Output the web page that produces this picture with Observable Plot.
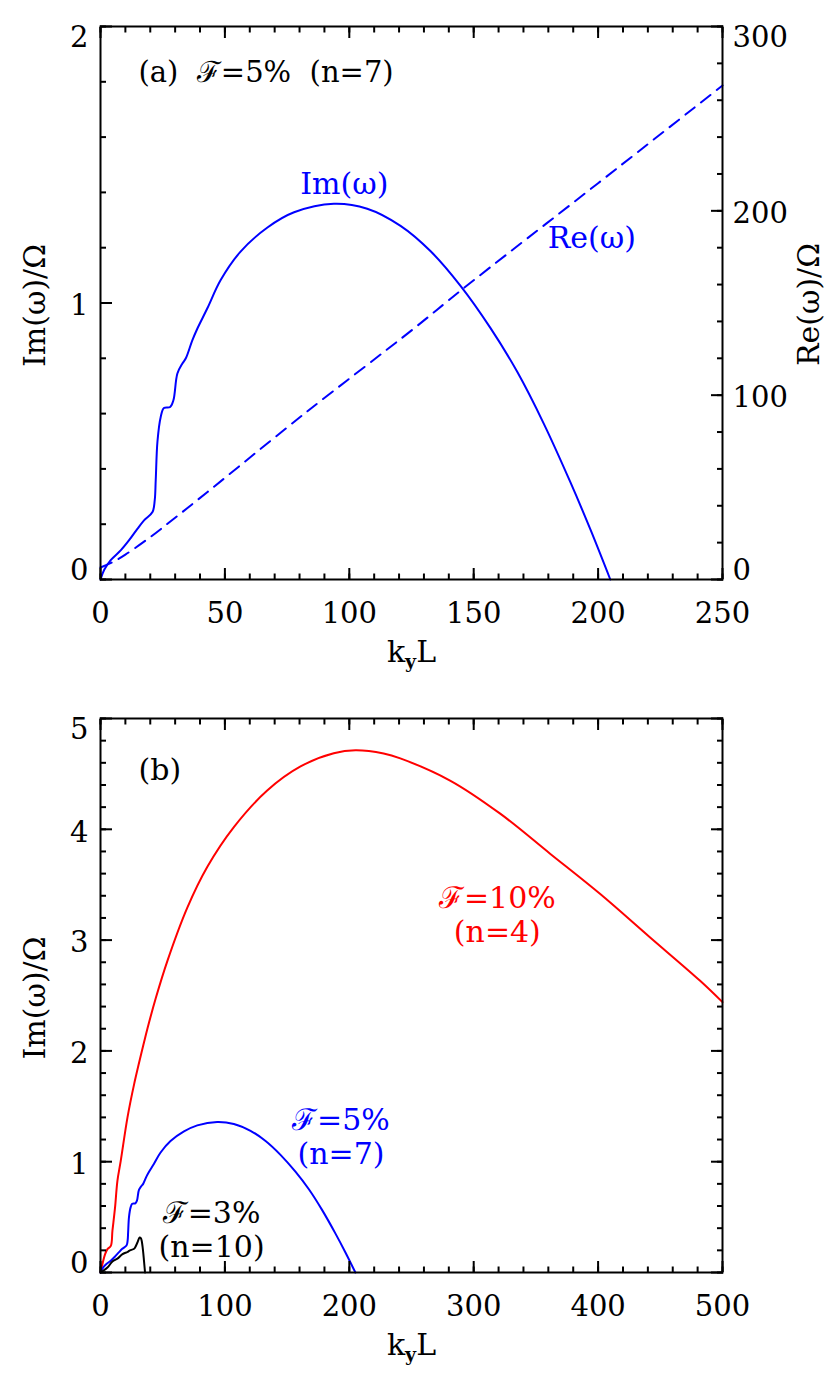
<!DOCTYPE html>
<html>
<head>
<meta charset="utf-8">
<script src="https://cdn.jsdelivr.net/npm/d3@7"></script>
<script src="https://cdn.jsdelivr.net/npm/@observablehq/plot@0.6"></script>
<style>
html, body { margin: 0; padding: 0; background: #fff; }
#chart svg { display: block; }
</style>
</head>
<body>
<div id="chart"></div>
<script>
// ---------- data ----------
// F = 5% (n=7): growth rate Im(omega)/Omega vs k_y L
const kF5  = [0, 1.5, 4.1, 8.2, 11.5, 14.9, 17.5, 20.9, 21.8, 22.2, 22.9, 24.2, 25.5, 28, 29.3, 30.9, 32.9, 34.3, 36.9, 38.9, 42.9, 48.3, 56.3, 67.1, 77.8, 93.8, 107.2, 120.6, 132.7, 144.7, 156.7, 167.5, 178.2, 188.9, 196.9, 204.9];
const imF5 = [0, 0.035, 0.07, 0.106, 0.142, 0.184, 0.214, 0.244, 0.287, 0.36, 0.5, 0.588, 0.62, 0.624, 0.648, 0.745, 0.781, 0.8, 0.865, 0.907, 0.98, 1.083, 1.186, 1.273, 1.328, 1.359, 1.341, 1.279, 1.187, 1.062, 0.91, 0.751, 0.563, 0.351, 0.181, 0];
// F = 5%: real frequency Re(omega)/Omega
const kRe  = [0, 5, 10, 20, 30, 43, 82, 126, 145, 200, 250];
const reF5 = [6.5, 9.5, 13.5, 23, 33.5, 47.5, 90, 136.2, 157, 215, 268];
// F = 10% (n=4)
const kF10  = [0, 3.7, 5.6, 8.3, 9.6, 11.7, 13.6, 16.3, 21.7, 27, 35, 37.7, 44.4, 53.8, 69.8, 85.9, 107.2, 134, 160.8, 187.5, 205, 227.6, 241, 281, 321.3, 361.4, 401.5, 441.6, 481.8, 500];
const imF10 = [0, 0.166, 0.211, 0.24, 0.377, 0.587, 0.828, 1.009, 1.4, 1.698, 2.078, 2.2, 2.475, 2.813, 3.293, 3.662, 4.02, 4.35, 4.567, 4.686, 4.713, 4.684, 4.64, 4.44, 4.141, 3.78, 3.418, 3.026, 2.635, 2.44];
// F = 3% (n=10)
const kF3  = [0, 5.6, 9.6, 13.6, 17.7, 21.7, 23, 27, 27.8, 29.7, 31.5, 32.4, 33.1, 34.2, 35, 35.8];
const imF3 = [0, 0.045, 0.1, 0.125, 0.166, 0.185, 0.196, 0.215, 0.226, 0.271, 0.316, 0.31, 0.286, 0.196, 0.1, 0];

// tick values
const xMajorA = [0, 50, 100, 150, 200, 250];
const xMinorA = d3.range(0, 251, 10);
const yMajorA = [0, 1, 2];
const yMinorA = d3.range(0, 2.001, 0.2);
const reMajor = [0, 100, 200, 300];
const reMinor = d3.range(0, 301, 20);
const xMajorB = [0, 100, 200, 300, 400, 500];
const xMinorB = d3.range(0, 501, 20);
const yMajorB = [0, 1, 2, 3, 4, 5];
const yMinorB = d3.range(0, 5.001, 0.2);

// annotations (data coordinates)
const annA = [{k: 98, v: 1.43, t: "Im(\u03C9)"}];
const annRe = [{k: 197.5, v: 185, t: "Re(\u03C9)"}];
const annB = [
  {k: 319, v: 3.236, t: "\u2131=10%\n(n=4)", c: "#ff0000"},
  {k: 193.3, v: 1.229, t: "\u2131=5%\n(n=7)", c: "#0000ff"},
  {k: 89.3, v: 0.395, t: "\u2131=3%\n(n=10)", c: "#000000"}
];

const RE_PER_IM = 150; // right axis 0..300 spans the same height as left axis 0..2
const FONT = "DejaVu Serif";
const BLUE = "#0000ff", RED = "#ff0000";
const TICK_FS = 29, TEXT_FS = 30;

function rows(ks, vs) { return ks.map((k, i) => ({k, v: vs[i]})); }

function tickMarks(axisFn, anchor, values, len) {
  const key = "inset" + anchor[0].toUpperCase() + anchor.slice(1);
  return axisFn(values, {anchor, tickSize: len, [key]: len, fill: "none", stroke: "black", strokeWidth: 2, label: null});
}
function yLabels(anchor, values, fmt) {
  const lo = d3.min(values), hi = d3.max(values);
  return values.map(v => Plot.axisY([v], {
    anchor, tickSize: 0, tickPadding: anchor === "left" ? 12 : 10,
    dy: v === hi ? 11.5 : v === lo ? -8.5 : 3,
    tickFormat: fmt, fontSize: TICK_FS, label: null, fill: "black"
  }));
}
function xLabels(values) {
  return Plot.axisX(values, {anchor: "bottom", tickSize: 0, tickPadding: 23, fontSize: TICK_FS, label: null, fill: "black", tickFormat: d => String(d)});
}
function axisTitles(leftTitle) {
  return [
    Plot.text([leftTitle], {text: d => d, frameAnchor: "left", rotate: -90, dx: -65, dy: 2.5, fontSize: TEXT_FS, textAnchor: "middle", lineAnchor: "middle"}),
    Plot.text(["k_yL"], {text: d => d, frameAnchor: "bottom", dy: 73, fontSize: TEXT_FS, textAnchor: "middle", lineAnchor: "middle"})
  ];
}

const plotA = Plot.plot({
  width: 830, height: 690,
  marginLeft: 100, marginRight: 108, marginTop: 26, marginBottom: 111,
  x: {domain: [0, 250]},
  y: {domain: [0, 2]},
  style: {fontFamily: FONT, fontSize: "29px", color: "black", background: "white", overflow: "visible"},
  marks: [
    Plot.line(rows(kRe, reF5), {x: "k", y: d => d.v / RE_PER_IM, stroke: BLUE, strokeWidth: 2, strokeDasharray: "12,8", curve: "catmull-rom"}),
    Plot.line(rows(kF5, imF5), {x: "k", y: "v", stroke: BLUE, strokeWidth: 2, curve: "catmull-rom"}),
    Plot.frame({stroke: "black", strokeWidth: 2}),
    tickMarks(Plot.axisX, "bottom", xMinorA, 5.5),
    tickMarks(Plot.axisX, "bottom", xMajorA, 11),
    tickMarks(Plot.axisX, "top", xMinorA, 5.5),
    tickMarks(Plot.axisX, "top", xMajorA, 11),
    tickMarks(Plot.axisY, "left", yMinorA, 6),
    tickMarks(Plot.axisY, "left", yMajorA, 12),
    tickMarks(Plot.axisY, "right", reMinor.map(v => v / RE_PER_IM), 6),
    tickMarks(Plot.axisY, "right", reMajor.map(v => v / RE_PER_IM), 12),
    xLabels(xMajorA),
    yLabels("left", yMajorA, d => String(d)),
    yLabels("right", reMajor.map(v => v / RE_PER_IM), d => String(Math.round(d * RE_PER_IM))),
    axisTitles("Im(\u03C9)/\u03A9"),
    Plot.text(["Re(\u03C9)/\u03A9"], {text: d => d, frameAnchor: "right", rotate: -90, dx: 87, dy: 1.5, fontSize: TEXT_FS, textAnchor: "middle", lineAnchor: "middle"}),
    Plot.text(["(a)  \u2131=5%  (n=7)"], {text: d => d, frameAnchor: "top-left", dx: 38, dy: 46, fontSize: 29, textAnchor: "start", lineAnchor: "middle"}),
    Plot.text(annA, {x: "k", y: "v", text: "t", fill: BLUE, fontSize: TEXT_FS, lineAnchor: "middle"}),
    Plot.text(annRe, {x: "k", y: d => d.v / RE_PER_IM, text: "t", fill: BLUE, fontSize: TEXT_FS, lineAnchor: "middle"})
  ]
});

const plotB = Plot.plot({
  width: 830, height: 693,
  marginLeft: 100, marginRight: 108, marginTop: 28, marginBottom: 111,
  x: {domain: [0, 500]},
  y: {domain: [0, 5]},
  style: {fontFamily: FONT, fontSize: "29px", color: "black", background: "white", overflow: "visible"},
  marks: [
    Plot.line(rows(kF10, imF10), {x: "k", y: "v", stroke: RED, strokeWidth: 2, curve: "catmull-rom"}),
    Plot.line(rows(kF5, imF5), {x: "k", y: "v", stroke: BLUE, strokeWidth: 2, curve: "catmull-rom"}),
    Plot.line(rows(kF3, imF3), {x: "k", y: "v", stroke: "black", strokeWidth: 2, curve: "catmull-rom"}),
    Plot.frame({stroke: "black", strokeWidth: 2}),
    tickMarks(Plot.axisX, "bottom", xMinorB, 5.5),
    tickMarks(Plot.axisX, "bottom", xMajorB, 11),
    tickMarks(Plot.axisX, "top", xMinorB, 5.5),
    tickMarks(Plot.axisX, "top", xMajorB, 11),
    tickMarks(Plot.axisY, "left", yMinorB, 6),
    tickMarks(Plot.axisY, "left", yMajorB, 12),
    tickMarks(Plot.axisY, "right", yMinorB, 6),
    tickMarks(Plot.axisY, "right", yMajorB, 12),
    xLabels(xMajorB),
    yLabels("left", yMajorB, d => String(d)),
    axisTitles("Im(\u03C9)/\u03A9"),
    Plot.text(["(b)"], {text: d => d, frameAnchor: "top-left", dx: 38, dy: 52, fontSize: TEXT_FS, textAnchor: "start", lineAnchor: "middle"}),
    Plot.text(annB, {x: "k", y: "v", text: "t", fill: "c", fontSize: TEXT_FS, lineAnchor: "middle", lineHeight: 1.13})
  ]
});

const root = document.getElementById("chart");
root.appendChild(plotA);
root.appendChild(plotB);

// subscript y in "k_yL"
const NS = "http://www.w3.org/2000/svg";
root.querySelectorAll("text").forEach(t => {
  if (t.textContent === "k_yL") {
    t.textContent = "";
    const a = document.createElementNS(NS, "tspan"); a.textContent = "k";
    const b = document.createElementNS(NS, "tspan"); b.textContent = "y";
    b.setAttribute("dy", "6"); b.setAttribute("font-size", "19"); b.setAttribute("font-weight", "bold");
    const c = document.createElementNS(NS, "tspan"); c.textContent = "L"; c.setAttribute("dy", "-6");
    t.append(a, b, c);
  }
});
</script>
</body>
</html>
